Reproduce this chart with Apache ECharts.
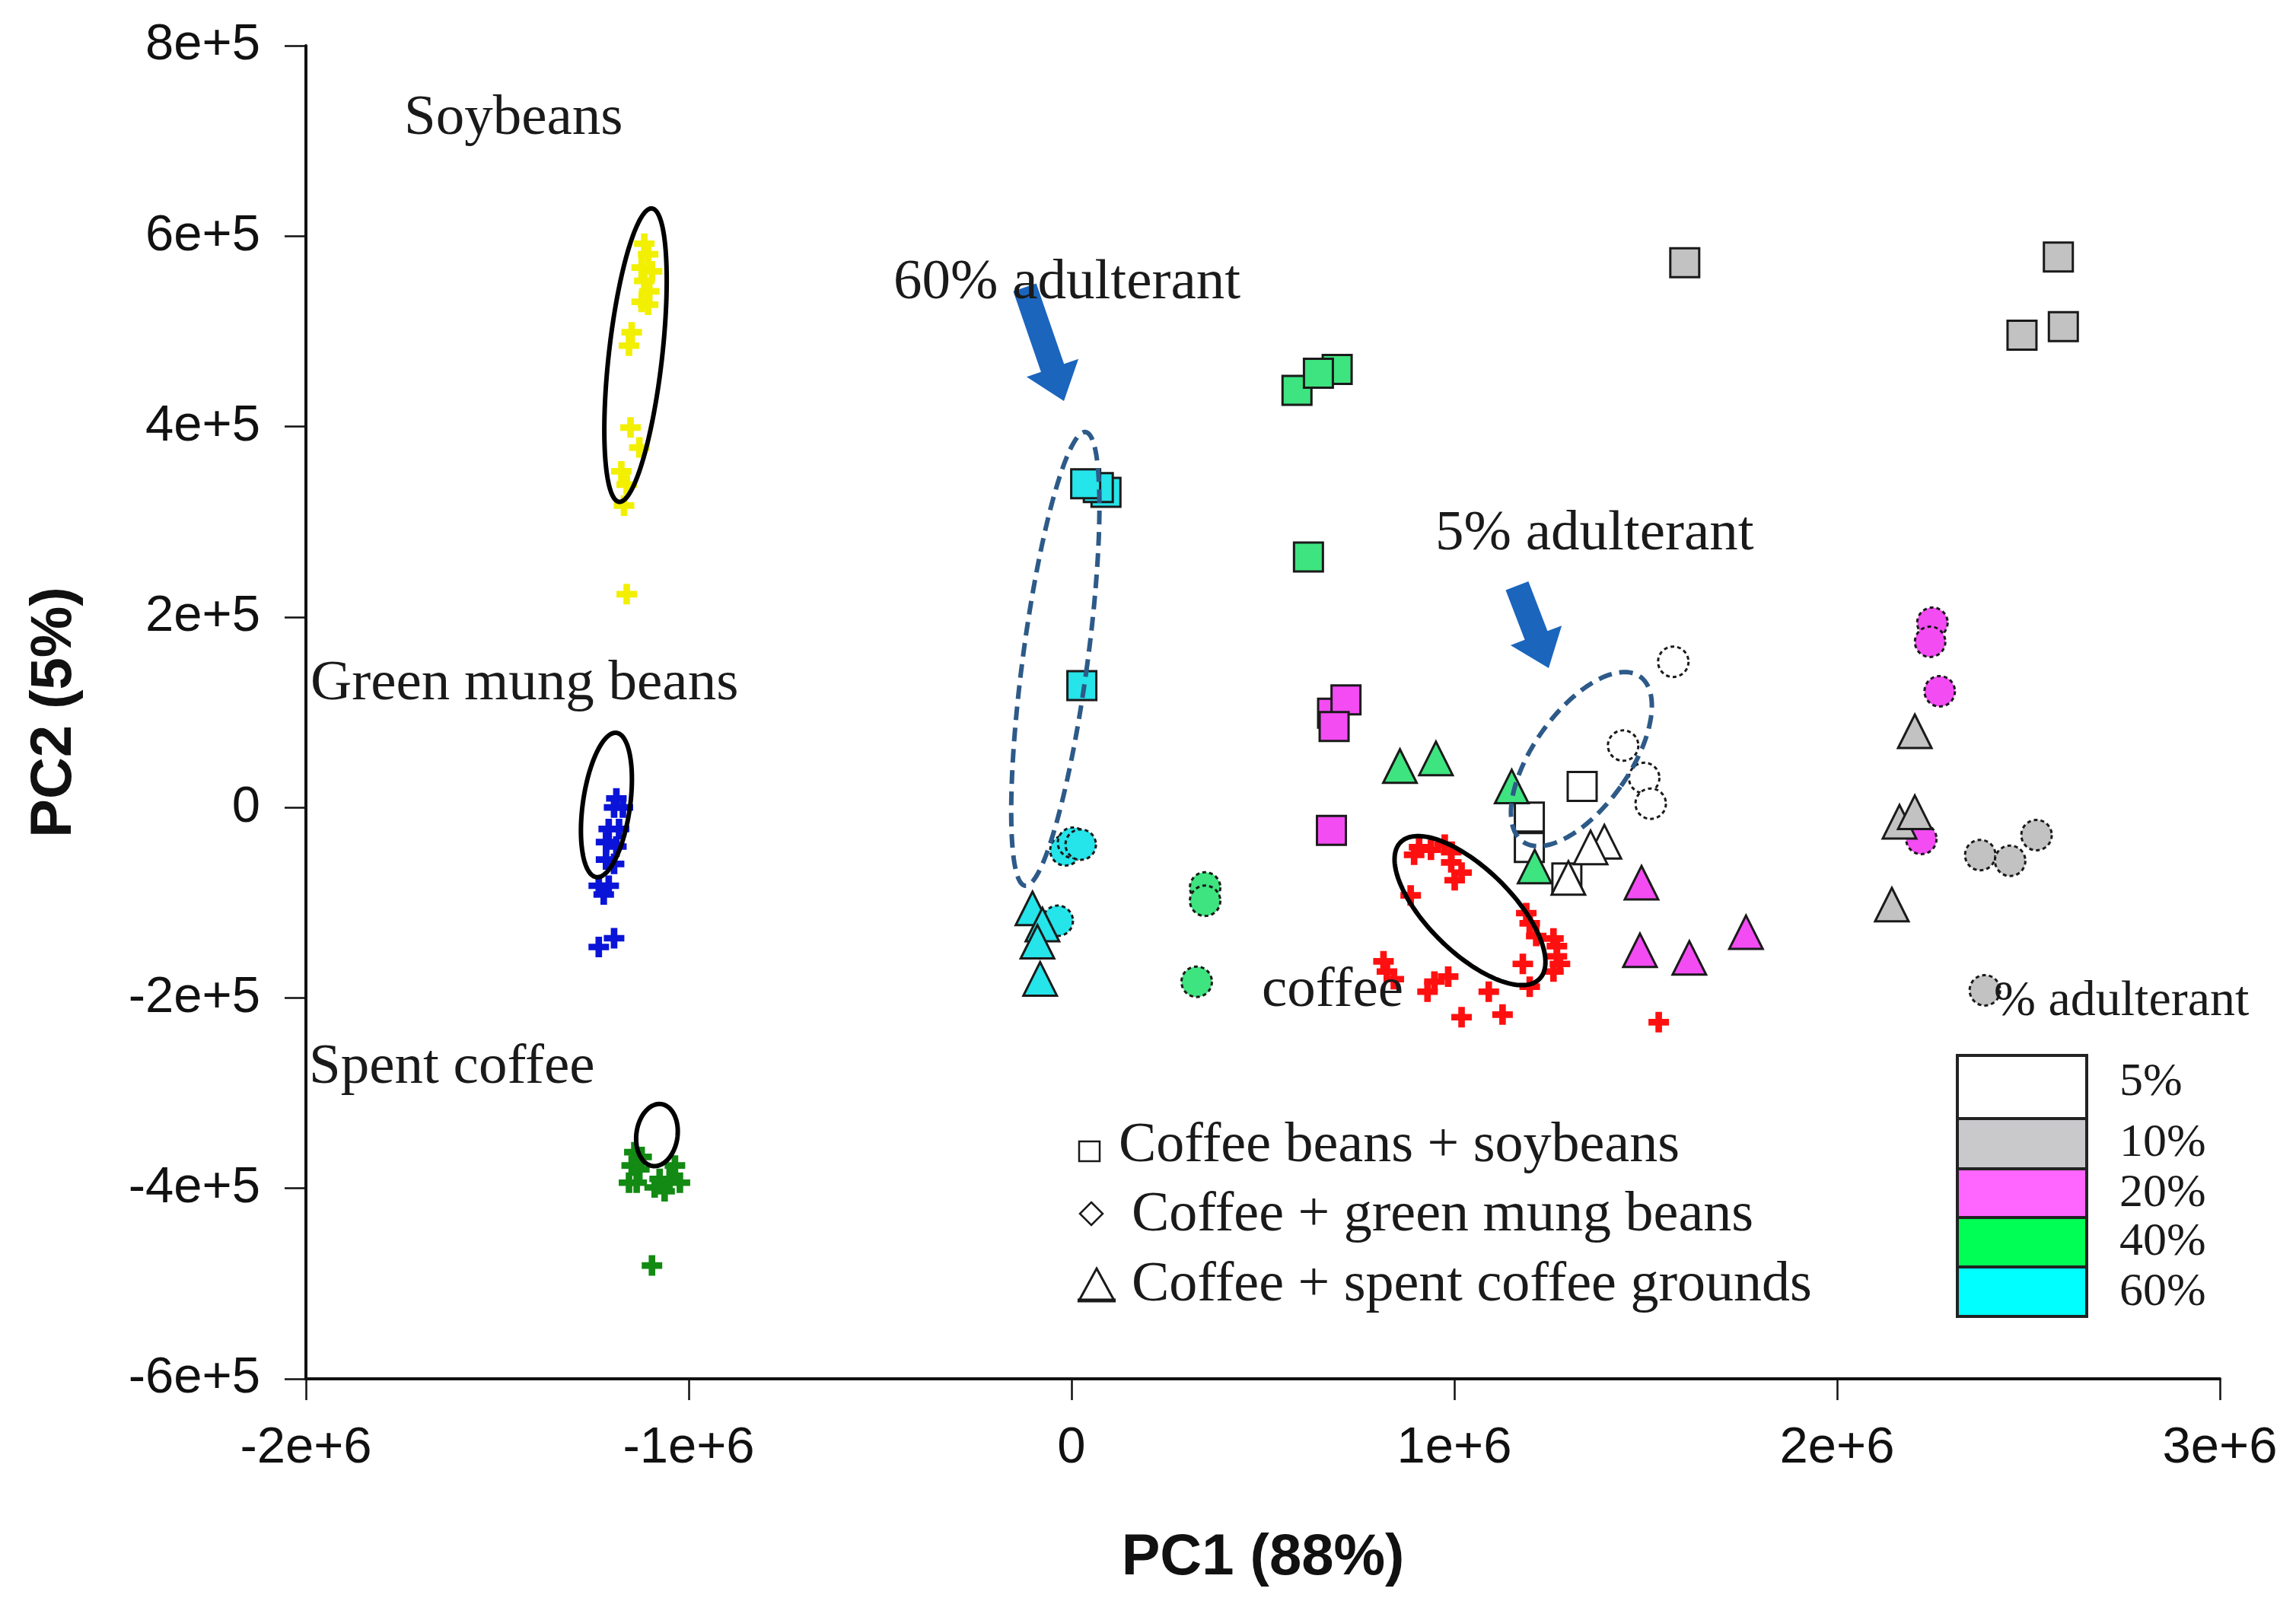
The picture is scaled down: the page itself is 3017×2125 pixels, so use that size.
<!DOCTYPE html>
<html><head><meta charset="utf-8">
<script src="https://cdn.jsdelivr.net/npm/echarts@6/dist/echarts.min.js"></script>
<style>html,body{margin:0;padding:0;background:#fff;}#c{width:3017px;height:2125px;}</style>
</head><body><div id="c"></div>
<script>
// ---------- data (PC1, PC2) ----------
const soybeans = [[-1116000,592000],[-1106000,581000],[-1123000,567000],[-1096000,563000],[-1116000,553000],[-1103000,542000],[-1123000,531000],[-1106000,528000],[-1149000,499000],[-1156000,485000],[-1152000,399000],[-1129000,378000],[-1176000,353000],[-1162000,339000],[-1169000,317000],[-1162000,224000]];
const mungBeans = [[-1189000,9500],[-1195000,0],[-1172000,0],[-1209000,-22600],[-1182000,-22600],[-1216000,-36400],[-1189000,-41000],[-1216000,-54700],[-1195000,-59300],[-1235000,-82200],[-1209000,-82200],[-1222000,-91400],[-1195000,-137300],[-1235000,-146500]];
const spentCoffee = [[-1142000,-362000],[-1123000,-367000],[-1149000,-376000],[-1129000,-380000],[-1156000,-394000],[-1136000,-394000],[-1089000,-399000],[-1076000,-390000],[-1063000,-403000],[-1050000,-390000],[-1036000,-376000],[-1023000,-394000],[-1096000,-481000]];
const coffee = [[908000,-41700],[939000,-44400],[895000,-49700],[975000,-39100],[992000,-47000],[992000,-57700],[1019000,-68400],[1001000,-76400],[886000,-92300],[1188000,-111000],[1197000,-121600],[1214000,-135000],[1259000,-137600],[1268000,-145600],[1268000,-156300],[1276000,-164300],[1259000,-172300],[1179000,-164300],[1197000,-188200],[815000,-161600],[824000,-172300],[842000,-180300],[948000,-182900],[930000,-193500],[984000,-177600],[1090000,-193500],[1019000,-220200],[1126000,-217500],[1534000,-225500]];

// coffee beans + soybeans (squares)
const soy5  = [[1334000,22000],[1196000,-10000],[1196000,-42000],[1294000,-74000]];
const soy10 = [[1602000,572000],[2578000,578000],[2483000,496000],[2591000,505000]];
const soy20 = [[682000,99000],[717000,113000],[686000,85000],[679000,-24000]];
const soy40 = [[589000,438000],[694000,460000],[645000,456000],[619000,263000]];
const soy60 = [[90000,331000],[70000,336000],[37000,340000],[27000,128000]];
// coffee + green mung beans (circles)
const mung5  = [[1572000,153000],[1441000,65000],[1496000,31000],[1513000,4000]];
const mung10 = [[2374000,-50000],[2452000,-56000],[2521000,-29000],[2386000,-192000]];
const mung20 = [[2249000,194000],[2243000,174000],[2268000,122000],[2220000,-33000]];
const mung40 = [[349000,-84000],[349000,-98000],[327000,-183000]];
const mung60 = [[-16000,-45000],[4000,-37000],[24000,-39000],[-36000,-119000]];
// coffee + spent coffee grounds (triangles)
const spent5  = [[1392000,-36000],[1356000,-42000],[1298000,-74000]];
const spent10 = [[2203000,80000],[2163000,-15000],[2203000,-5000],[2143000,-102000]];
const spent20 = [[1489000,-79000],[1485000,-150000],[1614000,-158000],[1762000,-131000]];
const spent40 = [[858000,43500],[952000,51500],[1150000,22000],[1210000,-62000]];
const spent60 = [[-102000,-106000],[-76000,-123000],[-89000,-141000],[-82000,-180000]];

// group ellipses: [centre PC1, centre PC2, semi-major, semi-minor (PC2 units), tilt deg, dashed]
const ellipses = [
  [-1139000, 475000, 155000, 28000, -6.4, 0],
  [-1215000, 2600, 76500, 24800, -8, 0],
  [-1083000, -344000, 32800, 21600, -8, 0],
  [1041000, -108300, 102300, 44000, 45.5, 0],
  [-42300, 156000, 240300, 34000, -7.6, 1],
  [1332000, 50800, 106300, 50300, -35.4, 1]
];

const levels = ['5%','10%','20%','40%','60%'];
const markerColors = ['#ffffff','#c2c2c2','#f34cf3','#3ee47f','#25e4ea'];
const legendColors = ['#ffffff','#c9c9cc','#ff66ff','#00ff55','#00ffff'];

// ---------- chart ----------
const chart = echarts.init(document.getElementById('c'));
const plusPath = 'path://M3.4,0H6.6V3.4H10V6.6H6.6V10H3.4V6.6H0V3.4H3.4Z';
const sans = '"Liberation Sans", Arial, sans-serif';
const serif = '"Liberation Serif", "Times New Roman", serif';

function sci(v){
  if (v === 0) return '0';
  const e = Math.floor(Math.log10(Math.abs(v)) + 1e-9);
  const m = Math.round(v / Math.pow(10, e));
  return m + 'e+' + e;
}

const series = [];
function plus(data, color){
  series.push({type:'scatter', data, symbol: plusPath, symbolSize: 27, itemStyle:{color, opacity:1}, z:2, silent:true});
}
plus(soybeans, '#f2f000');
plus(mungBeans, '#0a14d8');
plus(spentCoffee, '#138a13');
plus(coffee, '#ff1010');

const groups = [
  {sets:[soy5,soy10,soy20,soy40,soy60], symbol:'rect', size:38, border:'solid'},
  {sets:[mung5,mung10,mung20,mung40,mung60], symbol:'circle', size:40, border:[5,4]},
  {sets:[spent5,spent10,spent20,spent40,spent60], symbol:'triangle', size:44, border:'solid'}
];
groups.forEach(g => g.sets.forEach((d, i) => {
  series.push({type:'scatter', data:d, symbol:g.symbol, symbolSize:g.size, z:3, silent:true,
    itemStyle:{color:markerColors[i], borderColor:'#1a1a1a', borderWidth:3, borderType:g.border, opacity:1}});
}));

series.push({
  type:'custom', data: ellipses, z:6, silent:true, clip:false,
  renderItem(params, api){
    const c = api.coord([api.value(0), api.value(1)]);
    const a = api.size([0, api.value(2)])[1];
    const b = api.size([0, api.value(3)])[1];
    const r = api.value(4) * Math.PI / 180;
    const dashed = api.value(5);
    const pts = [];
    const N = 160;
    for (let i = 0; i <= N; i++) {
      const t = i / N * 2 * Math.PI;
      const lx = b * Math.cos(t), ly = a * Math.sin(t);
      pts.push([c[0] + lx*Math.cos(r) + ly*Math.sin(r), c[1] - lx*Math.sin(r) + ly*Math.cos(r)]);
    }
    return {type:'polyline', shape:{points:pts},
      style:{fill:null, stroke: dashed ? '#2d5a88' : '#000000', lineWidth: 6, lineDash: dashed ? [18,10] : null}};
  }
});

// ---------- annotations ----------
function txt(t, x, y, size){
  return {type:'text', x, y, z:20, silent:true,
    style:{text:t, fill:'#1a1a1a', font: size + 'px ' + serif, textAlign:'left', textVerticalAlign:'middle', align:'left', verticalAlign:'middle'}};
}
function arrow(tx, ty, len, deg){
  const s = 16, H = 36, hl = 46;
  return {type:'polygon', x:tx, y:ty, rotation: deg*Math.PI/180, z:15, silent:true,
    shape:{points:[[-s,-len],[s,-len],[s,-hl],[H,-hl],[0,0],[-H,-hl],[-s,-hl]]},
    style:{fill:'#1b65bd'}};
}
const graphic = [
  txt('Soybeans', 531, 156, 75),
  txt('60% adulterant', 1174, 372, 75),
  txt('5% adulterant', 1886, 702, 75),
  txt('Green mung beans', 408, 899, 75),
  txt('Spent coffee', 406, 1403, 75),
  txt('coffee', 1658, 1302, 75),
  txt('Coffee beans + soybeans', 1470, 1507, 74),
  txt('Coffee + green mung beans', 1487, 1598, 74),
  txt('Coffee + spent coffee grounds', 1487, 1690, 74),
  txt('% adulterant', 2620, 1317, 66),
  arrow(1398, 527, 158, 19),
  arrow(2035, 878, 116, 21),
  {type:'rect', shape:{x:1418, y:1500, width:27, height:26}, style:{fill:'#fff', stroke:'#1a1a1a', lineWidth:2.5}, z:20, silent:true},
  {type:'polygon', shape:{points:[[1434,1580],[1449,1595],[1434,1610],[1419,1595]]}, style:{fill:'#fff', stroke:'#1a1a1a', lineWidth:2.5}, z:20, silent:true},
  {type:'polygon', shape:{points:[[1441,1667],[1464,1709],[1418,1709]]}, style:{fill:'#fff', stroke:'#1a1a1a', lineWidth:3}, z:20, silent:true},
  {type:'line', shape:{x1:1416, y1:1709, x2:1466, y2:1709}, style:{stroke:'#1a1a1a', lineWidth:5}, z:20, silent:true}
];
const boxY = [1387, 1470, 1536, 1600, 1665, 1730];
const labelY = [1423, 1503, 1569, 1633, 1699];
levels.forEach((lv, i) => {
  graphic.push({type:'rect', z:18, silent:true, shape:{x:2572, y:boxY[i], width:170, height:boxY[i+1]-boxY[i]},
    style:{fill:legendColors[i], stroke:'#222', lineWidth:4}});
  graphic.push(txt(lv, 2785, labelY[i], 62));
});

chart.setOption({
  animation:false,
  backgroundColor:'#ffffff',
  grid:{left:402, right:100, top:60, bottom:313, containLabel:false},
  xAxis:{type:'value', min:-2000000, max:3000000, interval:1000000,
    axisLine:{show:true, onZero:false, lineStyle:{color:'#111', width:4}},
    axisTick:{show:true, inside:false, length:28, lineStyle:{color:'#111', width:2.5}},
    splitLine:{show:false},
    axisLabel:{fontSize:67, fontFamily:sans, color:'#111', margin:58, formatter:sci},
    name:'PC1 (88%)', nameLocation:'middle', nameGap:198,
    nameTextStyle:{fontSize:76, fontWeight:'bold', fontFamily:sans, color:'#111'}},
  yAxis:{type:'value', min:-600000, max:800000, interval:200000,
    axisLine:{show:true, onZero:false, lineStyle:{color:'#111', width:4}},
    axisTick:{show:true, inside:false, length:28, lineStyle:{color:'#111', width:2.5}},
    splitLine:{show:false},
    axisLabel:{fontSize:67, fontFamily:sans, color:'#111', margin:60, formatter:sci},
    name:'PC2 (5%)', nameLocation:'middle', nameGap:292, nameRotate:90,
    nameTextStyle:{fontSize:76, fontWeight:'bold', fontFamily:sans, color:'#111'}},
  series,
  graphic
});
</script></body></html>
